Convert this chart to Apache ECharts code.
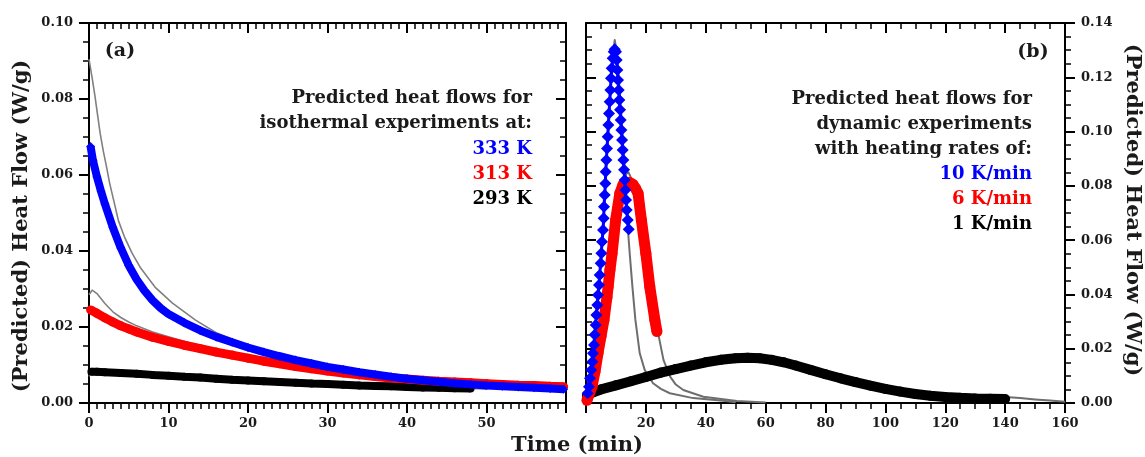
<!DOCTYPE html>
<html><head><meta charset="utf-8">
<script src="https://cdn.jsdelivr.net/npm/echarts@6/dist/echarts.min.js"></script>
<style>html,body{margin:0;padding:0;background:#fff}#c{width:1145px;height:457px}</style>
</head><body><div id="c"></div>
<script>
// ---------- Panel (a): isothermal, time in min, heat flow in W/g ----------
const iso333T = [0.2,0.5,1,1.5,2,3,4,5,6,7,8,9,10,12,14,16,18,20,22,24,26,28,30,32,34,36,38,40,42,44,46,48,50,52,54,56,58,59.7];
const iso333Q = [0.0675,0.0638,0.0595,0.0558,0.0524,0.0462,0.0408,0.0362,0.0325,0.0295,0.027,0.025,0.0234,0.0211,0.0191,0.0174,0.016,0.0146,0.0134,0.0123,0.0113,0.0104,0.0095,0.0088,0.0081,0.0075,0.0069,0.0064,0.006,0.0056,0.0052,0.0049,0.0046,0.0044,0.0042,0.004,0.0038,0.0036];
const iso313T = [0.2,1,2,3,4,5,6,8,10,12,14,16,18,20,22,24,26,28,30,32,34,36,38,40,42,44,46,48,50,52,54,56,58,59.7];
const iso313Q = [0.0245,0.0236,0.0224,0.0213,0.0203,0.0195,0.0187,0.0173,0.0162,0.0152,0.0143,0.0134,0.0126,0.0118,0.011,0.0103,0.0096,0.009,0.0084,0.0079,0.0074,0.007,0.0066,0.0063,0.006,0.0057,0.0055,0.0053,0.0051,0.0049,0.0047,0.0046,0.0044,0.0043];
const iso293T = [0.3,1,2,4,6,8,10,12,14,16,18,20,22,24,26,28,30,32,34,36,38,40,42,44,46,48];
const iso293Q = [0.0082,0.0082,0.0081,0.0079,0.0077,0.0074,0.0072,0.0069,0.0067,0.0064,0.0061,0.0059,0.0057,0.0055,0.0053,0.0051,0.005,0.0048,0.0046,0.0045,0.0044,0.0042,0.0041,0.004,0.0039,0.0038];
// experimental (grey) curves
const exp333T = [0,0.1,0.4,0.76,1.1,1.4,1.8,2.2,2.6,3.1,3.7,4.5,5.4,6.5,8.3,10.5,13.4,16,20,25,30,40,50,60];
const exp333Q = [0.0905,0.0903,0.0855,0.0806,0.0755,0.071,0.0663,0.0622,0.0578,0.0534,0.048,0.0435,0.0395,0.0355,0.0305,0.0263,0.0218,0.0185,0.0152,0.0122,0.0097,0.0065,0.0048,0.0038];
const exp313T = [0,0.4,1,1.5,2,3,4,5,6,8,10,12,14,16,18,20,25,30,40,50,60];
const exp313Q = [0.0285,0.0297,0.0288,0.0275,0.0262,0.024,0.0225,0.0213,0.0203,0.0187,0.0174,0.0162,0.0151,0.0141,0.0131,0.0122,0.0102,0.0086,0.0064,0.0052,0.0044];
const exp293T = [0,0.3,2,10,20,30,40,50];
const exp293Q = [0.007,0.0082,0.0081,0.0072,0.0059,0.005,0.0042,0.0037];

// ---------- Panel (b): dynamic, time in min, heat flow in W/g ----------
const dyn10T = [0.56,1.0,1.34,1.78,2.12,2.34,2.68,2.9,3.23,3.46,3.79,4.01,4.35,4.57,4.91,5.13,5.35,5.69,5.91,6.02,6.24,6.47,6.58,6.8,7.02,7.25,7.47,7.69,7.92,8.14,8.36,8.59,8.92,9.25,9.59,10.03,10.26,10.48,10.7,10.93,11.15,11.37,11.59,11.82,12.04,12.26,12.49,12.71,12.93,13.16,13.38,13.6,13.94,14.27];
const dyn10Q = [0.0036,0.006,0.0091,0.0122,0.0152,0.0183,0.0214,0.0251,0.0287,0.0324,0.0361,0.0398,0.0435,0.0472,0.0515,0.0552,0.0594,0.0637,0.0681,0.0723,0.0766,0.0809,0.0852,0.0895,0.0938,0.0981,0.1024,0.1067,0.111,0.1153,0.1196,0.1233,0.127,0.1294,0.1303,0.1294,0.1264,0.1227,0.119,0.1153,0.1116,0.108,0.1043,0.1006,0.0969,0.0932,0.0895,0.0859,0.0822,0.0785,0.0748,0.0711,0.0674,0.064];
const dyn6T = [0.3,1,2,3,4,5,6,7,7.4,8,8.7,9.9,11.3,12.4,13.5,14.6,15.7,16.6,17.4,18.5,20,21.3,23,23.7];
const dyn6Q = [0.001,0.003,0.006,0.0115,0.0183,0.0245,0.0306,0.039,0.0429,0.049,0.0551,0.0674,0.0772,0.0805,0.0812,0.0812,0.0805,0.079,0.0772,0.0674,0.0551,0.0429,0.0306,0.0263];
const dyn1T = [0.3,2,5,10,15,20,25,30,35,40,45,50,54,58,62,66,70,75,80,85,90,95,100,105,110,115,120,125,130,135,140];
const dyn1Q = [0.0028,0.0038,0.005,0.0065,0.008,0.0096,0.0112,0.0125,0.0138,0.015,0.0159,0.0165,0.0167,0.0165,0.0159,0.015,0.0138,0.0122,0.0106,0.0091,0.0077,0.0064,0.0052,0.0042,0.0033,0.0027,0.0022,0.0019,0.0017,0.0016,0.0015];
const exp10T = [0,1,2,3,4,5,6,7,8,9,9.6,10.2,11,12,13,14,14.6,15.5,16.5,17.95,19.6,22.4,25,28,35.8,45.8,50];
const exp10Q = [0,0.0045,0.014,0.0265,0.0395,0.0535,0.07,0.092,0.112,0.129,0.1337,0.13,0.119,0.103,0.083,0.064,0.0551,0.0429,0.0306,0.0183,0.0122,0.0073,0.0052,0.0036,0.0018,0.0008,0.0003];
const exp6T = [0,2,4,6,8,10,12,13.5,14.2,15,16,17.4,18.5,20,21.3,23,24.2,25.9,28.1,30,32.5,39.2,50.4,60];
const exp6Q = [0,0.005,0.017,0.03,0.049,0.067,0.079,0.0845,0.085,0.083,0.08,0.077,0.0674,0.0551,0.0429,0.0306,0.0251,0.0158,0.0097,0.0068,0.0048,0.0023,0.0007,0.0002];
const exp1T = [0,0.3,2,5,10,15,20,25,30,35,40,45,50,54,58,62,66,70,75,80,85,90,95,100,105,110,115,120,125,130,135,140,145,150,155,160];
const exp1Q = [0.0003,0.0028,0.0038,0.005,0.0065,0.008,0.0096,0.0112,0.0125,0.0138,0.015,0.0159,0.0165,0.0167,0.0165,0.0159,0.015,0.0138,0.0122,0.0106,0.0091,0.0077,0.0064,0.0052,0.0042,0.0033,0.0027,0.0022,0.0019,0.0017,0.0016,0.0022,0.0018,0.0013,0.0009,0.0005];

// text
const yTitle = '(Predicted) Heat Flow (W/g)';
const xTitle = 'Time (min)';
const notesA = ['Predicted heat flows for', 'isothermal experiments at:'];
const legendA = ['333 K', '313 K', '293 K'];
const notesB = ['Predicted heat flows for', 'dynamic experiments', 'with heating rates of:'];
const legendB = ['10 K/min', '6 K/min', '1 K/min'];
const colors = ['#0000ff', '#ff0000', '#000000'];

const zip = (a, b) => a.map((v, i) => [v, b[i]]);
const FONT = '"DejaVu Serif", serif';
const INK = '#1a1a1a';

function xAx(grid, max, interval, minorSplit, top, hideVal) {
  return {
    type: 'value', gridIndex: grid, min: 0, max: max, interval: interval,
    position: top ? 'top' : 'bottom',
    axisLine: {show: true, onZero: false, lineStyle: {color: '#000', width: 2}},
    axisTick: {show: true, inside: !!top, length: 10, lineStyle: {color: '#000', width: 2}},
    minorTick: {show: true, splitNumber: minorSplit, length: 6, lineStyle: {color: '#000', width: 1.5}},
    splitLine: {show: false},
    axisLabel: {show: !top, margin: 14, color: INK, fontFamily: FONT, fontWeight: 'bold', fontSize: 13,
      formatter: v => (v === hideVal ? '' : String(v))}
  };
}
function yAx(grid, max, right, inside, showLabel) {
  return {
    type: 'value', gridIndex: grid, min: 0, max: max, interval: 0.02,
    position: right ? 'right' : 'left',
    axisLine: {show: true, onZero: false, lineStyle: {color: '#000', width: 2}},
    axisTick: {show: true, inside: inside, length: 10, lineStyle: {color: '#000', width: 2}},
    minorTick: {show: true, splitNumber: 4, length: 6, lineStyle: {color: '#000', width: 1.5}},
    splitLine: {show: false},
    axisLabel: {show: showLabel, margin: 16, color: INK, fontFamily: FONT, fontWeight: 'bold', fontSize: 13,
      formatter: v => v.toFixed(2)}
  };
}

function gray(x, y, t, q, w, c) {
  return {type: 'line', xAxisIndex: x, yAxisIndex: y, data: zip(t, q), showSymbol: false, silent: true,
    lineStyle: {color: c, width: w, join: 'round'}, z: 2};
}
function band(x, y, t, q, color, sym, size, w, z) {
  return {type: 'line', xAxisIndex: x, yAxisIndex: y, data: zip(t, q), symbol: sym, symbolSize: size,
    showSymbol: true, showAllSymbol: true, itemStyle: {color: color}, lineStyle: {color: color, width: w},
    silent: true, z: z};
}

function texts() {
  const g = [];
  const add = (txt, x, y, fill, size, align, rot) => g.push({type: 'text', x: x, y: y, rotation: rot || 0,
    style: {text: txt, fill: fill, font: 'bold ' + size + 'px ' + FONT, textAlign: align, textVerticalAlign: 'middle'}, z: 10});
  add('(a)', 120, 51, INK, 19, 'center');
  add('(b)', 1033, 52, INK, 19, 'center');
  notesA.forEach((s, i) => add(s, 532, 98 + 25 * i, INK, 18, 'right'));
  legendA.forEach((s, i) => add(s, 532, 149 + 25 * i, colors[i], 18, 'right'));
  notesB.forEach((s, i) => add(s, 1032, 99 + 25 * i, INK, 18, 'right'));
  legendB.forEach((s, i) => add(s, 1032, 174 + 25 * i, colors[i], 18, 'right'));
  add(yTitle, 22, 226, INK, 21, 'center', Math.PI / 2);
  add(yTitle, 1132, 210, INK, 21, 'center', -Math.PI / 2);
  add(xTitle, 577, 446, INK, 21, 'center');
  return g;
}

const chart = echarts.init(document.getElementById('c'), null, {renderer: 'canvas'});
chart.setOption({
  animation: false,
  backgroundColor: '#fff',
  grid: [
    {left: 89, top: 23, width: 477, height: 380, containLabel: false},
    {left: 586, top: 23, width: 479, height: 380, containLabel: false}
  ],
  xAxis: [
    xAx(0, 60, 10, 10, false, 60),
    xAx(0, 60, 10, 10, true, null),
    xAx(1, 160, 20, 4, false, 0),
    xAx(1, 160, 20, 4, true, null)
  ],
  yAxis: [
    yAx(0, 0.10, false, false, true),
    yAx(0, 0.10, true, true, false),
    yAx(1, 0.14, true, false, true),
    yAx(1, 0.14, false, true, false)
  ],
  series: [
    gray(0, 0, exp333T, exp333Q, 1.6, '#808080'),
    gray(0, 0, exp313T, exp313Q, 1.6, '#808080'),
    gray(0, 0, exp293T, exp293Q, 1.6, '#808080'),
    band(0, 0, iso293T, iso293Q, colors[2], 'circle', 8, 8, 3),
    band(0, 0, iso313T, iso313Q, colors[1], 'circle', 9, 9, 4),
    band(0, 0, iso333T, iso333Q, colors[0], 'diamond', 9, 8, 5),
    gray(2, 2, exp10T, exp10Q, 2, '#6e6e6e'),
    gray(2, 2, exp6T, exp6Q, 2, '#6e6e6e'),
    gray(2, 2, exp1T, exp1Q, 2, '#6e6e6e'),
    band(2, 2, dyn1T, dyn1Q, colors[2], 'circle', 10, 10, 3),
    band(2, 2, dyn6T, dyn6Q, colors[1], 'circle', 11, 11, 4),
    band(2, 2, dyn10T, dyn10Q, colors[0], 'diamond', 12, 3, 5)
  ],
  graphic: texts()
});
</script></body></html>
